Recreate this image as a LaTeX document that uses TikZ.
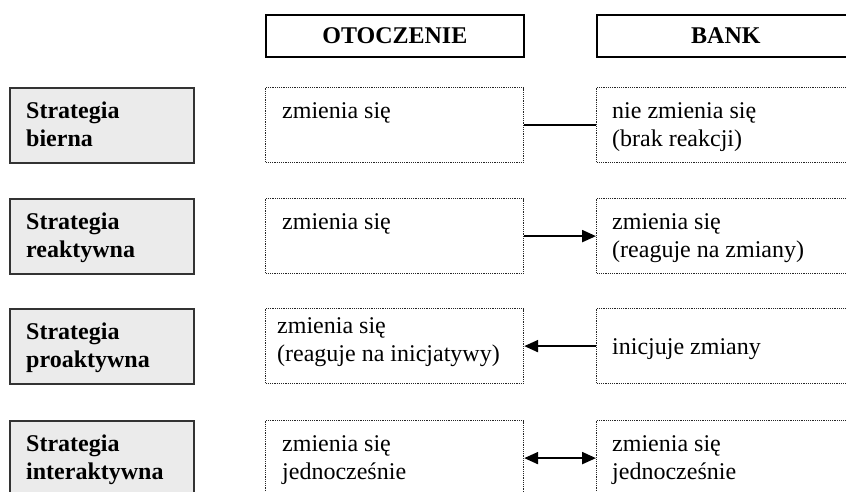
\documentclass[tikz,border=0pt]{standalone}
\usepackage{fontspec}
\setmainfont{Liberation Serif}
\usetikzlibrary{arrows.meta}

% Strategy table: label boxes on the left, dotted cells for the
% environment and the bank, connectors showing who drives change.
\tikzset{
  every node/.style={font=\fontsize{24}{28}\selectfont},
  headbox/.style={draw=black, line width=1.7pt, minimum width=258pt,
    minimum height=42pt, inner sep=0pt, anchor=north west,
    font=\fontsize{24}{28}\selectfont\bfseries},
  stratbox/.style={draw=black!80, fill=black!8, line width=1.8pt,
    minimum width=184pt, minimum height=75pt, inner sep=0pt, anchor=north west},
  cellbox/.style={draw=black!85, dash pattern=on 1.2pt off 1pt, line width=1.2pt,
    minimum width=258pt, minimum height=75pt, inner sep=0pt, anchor=north west},
  celltext/.style={anchor=base west, inner sep=0pt},
  plainlink/.style={draw=black, line width=1.3pt},
  arrowlink/.style={draw=black, line width=2.2pt,
    -{Triangle[length=14pt,width=12pt]}},
  bothlink/.style={draw=black, line width=2.2pt,
    {Triangle[length=14pt,width=12pt]}-{Triangle[length=14pt,width=12pt]}},
}
\newcommand{\lines}[1]{\begin{tabular}[t]{@{}l@{}}#1\end{tabular}}

\begin{document}
\begin{tikzpicture}[x=1pt,y=-1pt]
\useasboundingbox (0,0) rectangle (846,491);
\clip (0,0) rectangle (846,491);

% column headers
\node[headbox] (hEnv) at (265,14) {OTOCZENIE};
\node[headbox] (hBank) at (596,14) {BANK};

% row 1: passive
\node[stratbox] (s1) at (9,87) {};
\node[cellbox] (m1) at (265,87) {};
\node[cellbox] (r1) at (596,87) {};
\node[celltext] (s1t) at ([shift={(17,31)}]s1.north west) {\bfseries\lines{Strategia\\bierna}};
\node[celltext] (m1t) at ([shift={(17,31)}]m1.north west) {zmienia się};
\node[celltext] (r1t) at ([shift={(16,31)}]r1.north west) {\lines{nie zmienia się\\(brak reakcji)}};
\draw[plainlink] (m1.east) -- (r1.west);

% row 2: reactive
\node[stratbox] (s2) at (9,198) {};
\node[cellbox] (m2) at (265,198) {};
\node[cellbox] (r2) at (596,198) {};
\node[celltext] (s2t) at ([shift={(17,31)}]s2.north west) {\bfseries\lines{Strategia\\reaktywna}};
\node[celltext] (m2t) at ([shift={(17,31)}]m2.north west) {zmienia się};
\node[celltext] (r2t) at ([shift={(16,31)}]r2.north west) {\lines{zmienia się\\(reaguje na zmiany)}};
\draw[arrowlink] (m2.east) -- (r2.west);

% row 3: proactive
\node[stratbox] (s3) at (9,308) {};
\node[cellbox] (m3) at (265,308) {};
\node[cellbox] (r3) at (596,308) {};
\node[celltext] (s3t) at ([shift={(17,31)}]s3.north west) {\bfseries\lines{Strategia\\proaktywna}};
\node[celltext] (m3t) at ([shift={(12,25)}]m3.north west) {\lines{zmienia się\\(reaguje na inicjatywy)}};
\node[celltext] (r3t) at ([shift={(16,46)}]r3.north west) {inicjuje zmiany};
\draw[arrowlink] (r3.west) -- (m3.east);

% row 4: interactive
\node[stratbox] (s4) at (9,420) {};
\node[cellbox] (m4) at (265,420) {};
\node[cellbox] (r4) at (596,420) {};
\node[celltext] (s4t) at ([shift={(17,31)}]s4.north west) {\bfseries\lines{Strategia\\interaktywna}};
\node[celltext] (m4t) at ([shift={(17,31)}]m4.north west) {\lines{zmienia się\\jednocześnie}};
\node[celltext] (r4t) at ([shift={(16,31)}]r4.north west) {\lines{zmienia się\\jednocześnie}};
\draw[bothlink] (m4.east) -- (r4.west);
\end{tikzpicture}
\end{document}
